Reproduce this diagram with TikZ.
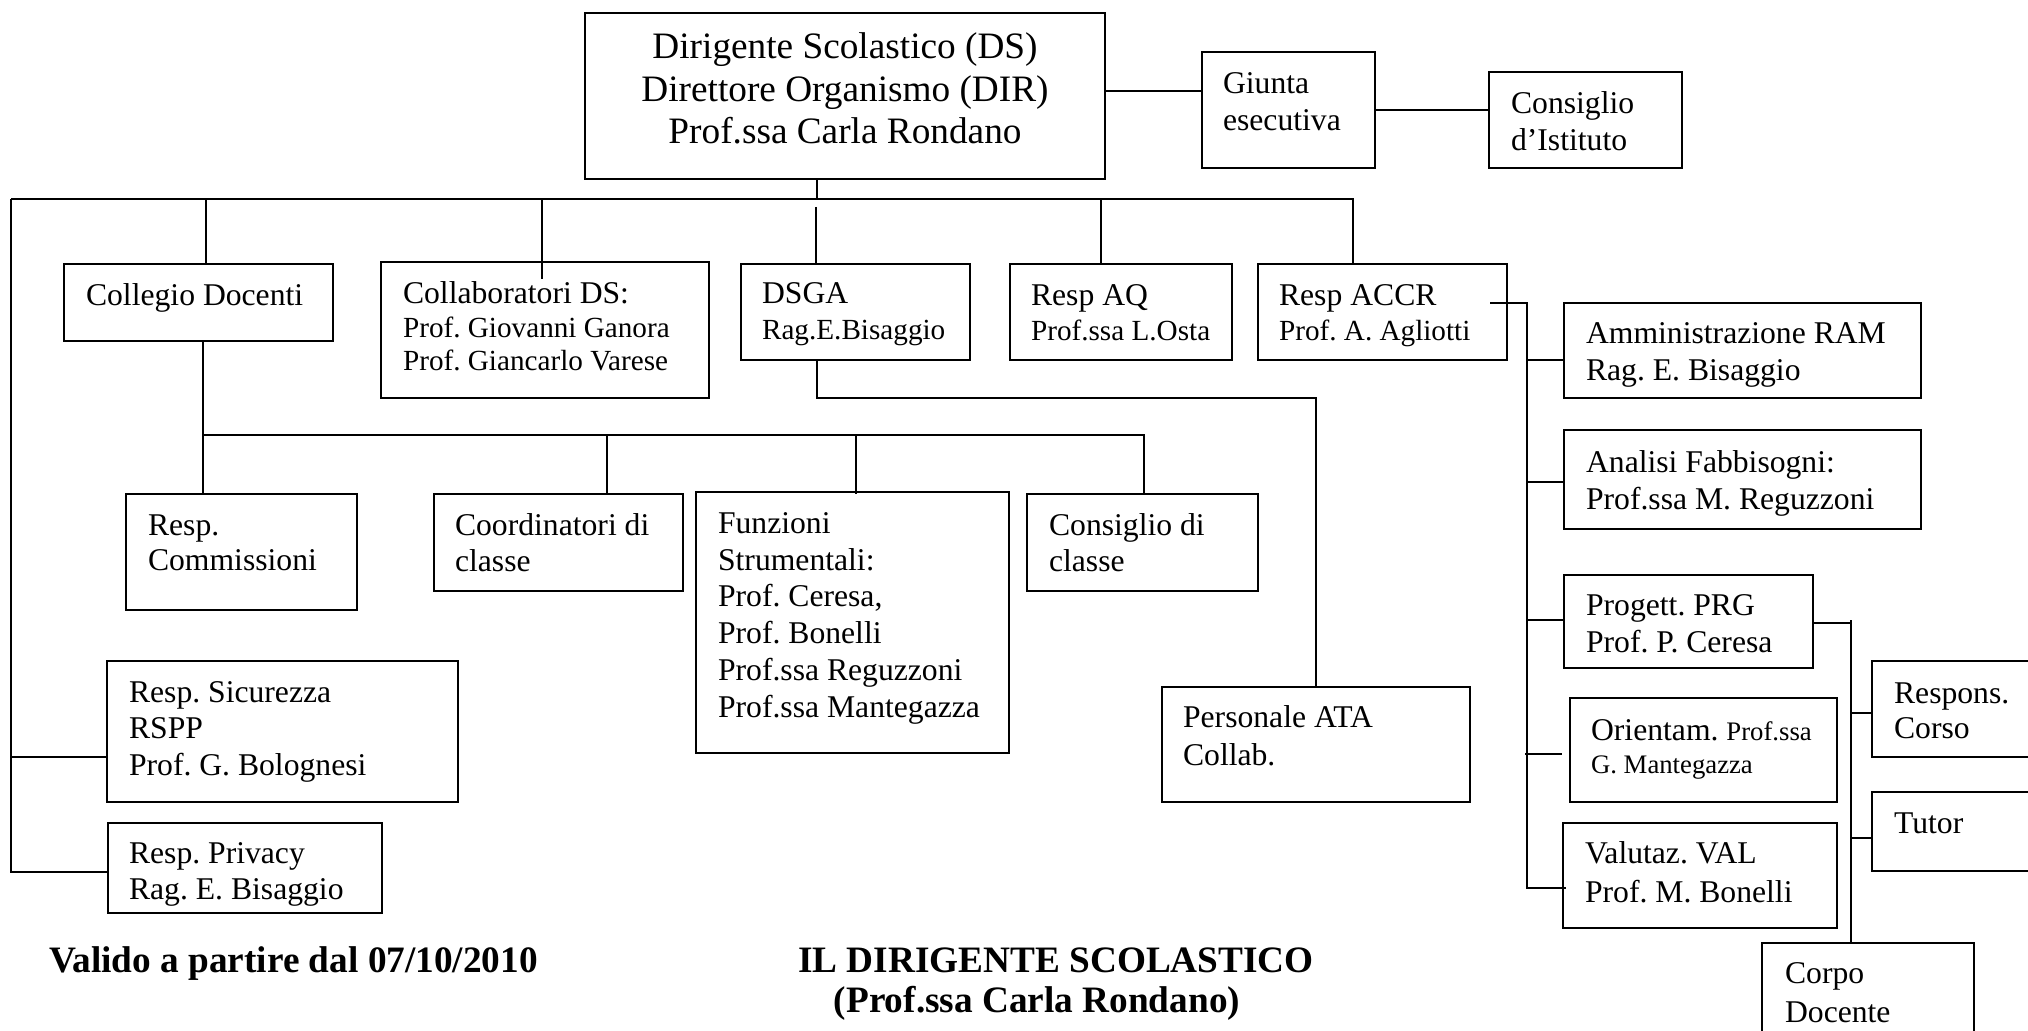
\documentclass[tikz,border=0pt]{standalone}
\usepackage{fontspec}
\setmainfont{Liberation Serif}
\usetikzlibrary{fit,calc}
\frenchspacing

\newcommand{\fds}{\fontsize{10.6}{12.1}\selectfont}
\newcommand{\fnorm}{\fontsize{9}{10.5}\selectfont}
\newcommand{\fsmall}{\fontsize{8.3}{10}\selectfont}
\newcommand{\ftiny}{\fontsize{7.6}{9.4}\selectfont}
\newcommand{\fbold}{\fontsize{10.6}{12}\selectfont\bfseries}
\newcommand{\st}{\rule{0pt}{0.8em}}

\tikzset{
  box/.style={draw, inner sep=0pt},
  txt/.style={anchor=north west, inner sep=0pt, align=left, font=\fnorm}
}

\begin{document}
\begin{tikzpicture}[x=0.01cm, y=-0.01cm, line width=0.6pt]
\useasboundingbox (0,0) rectangle (2028,1031);

% top row
\node[box, fit={(585,13) (1105,179)}] (ds) {};
\node[anchor=north, inner sep=0pt, align=center, font=\fds] (dsT) at (845,28) {\st Dirigente Scolastico (DS)\\Direttore Organismo (DIR)\\Prof.ssa Carla Rondano};
\node[box, fit={(1202,52) (1375,168)}] (giunta) {};
\node[txt] (giuntaT) at (1222,67) {\st Giunta\\esecutiva};
\node[box, fit={(1489,72) (1682,168)}] (cdi) {};
\node[txt] (cdiT) at (1510,87) {\st Consiglio\\d’Istituto};

% second row
\node[box, fit={(64,264) (333,341)}] (collegio) {};
\node[txt] (collegioT) at (85,279) {\st Collegio Docenti};
\node[box, fit={(381,262) (709,398)}] (collab) {};
\node[txt, font=\fontsize{9}{9.6}\selectfont] (collabT) at (402,277) {\st Collaboratori DS:\\\fsmall Prof. Giovanni Ganora\\\fsmall Prof. Giancarlo Varese};
\node[box, fit={(741,264) (970,360)}] (dsga) {};
\node[txt, font=\fontsize{9}{10.2}\selectfont] (dsgaT) at (761,277) {\st DSGA\\\fsmall Rag.E.Bisaggio};
\node[box, fit={(1010,264) (1232,360)}] (aq) {};
\node[txt, font=\fontsize{9}{10}\selectfont] (aqT) at (1030,279) {\st Resp AQ\\\fsmall Prof.ssa L.Osta};
\node[box, fit={(1258,264) (1507,360)}] (accr) {};
\node[txt, font=\fontsize{9}{10}\selectfont] (accrT) at (1278,279) {\st Resp ACCR\\\fsmall Prof. A. Agliotti};

% collegio docenti branch
\node[box, fit={(126,494) (357,610)}] (commiss) {};
\node[txt, font=\fontsize{9}{10}\selectfont] (commissT) at (147,509) {\st Resp.\\Commissioni};
\node[box, fit={(434,494) (683,591)}] (coord) {};
\node[txt, font=\fontsize{9}{10.3}\selectfont] (coordT) at (454,509) {\st Coordinatori di\\classe};
\node[box, fit={(696,492) (1009,753)}] (funz) {};
\node[txt, font=\fontsize{9}{10.45}\selectfont] (funzT) at (717,507) {\st Funzioni\\Strumentali:\\Prof. Ceresa,\\Prof. Bonelli\\Prof.ssa Reguzzoni\\Prof.ssa Mantegazza};
\node[box, fit={(1027,494) (1258,591)}] (cdc) {};
\node[txt, font=\fontsize{9}{10.3}\selectfont] (cdcT) at (1048,509) {\st Consiglio di\\classe};

% personale
\node[box, fit={(1162,687) (1470,802)}] (ata) {};
\node[txt, font=\fontsize{9}{10.8}\selectfont] (ataT) at (1182,701) {\st Personale ATA\\Collab.};

% left column
\node[box, fit={(107,661) (458,802)}] (sicur) {};
\node[txt, font=\fontsize{9}{10.4}\selectfont] (sicurT) at (128,676) {\st Resp. Sicurezza\\RSPP\\Prof. G. Bolognesi};
\node[box, fit={(108,823) (382,913)}] (privacy) {};
\node[txt, font=\fontsize{9}{10.4}\selectfont] (privacyT) at (128,837) {\st Resp. Privacy\\Rag. E. Bisaggio};

% right column
\node[box, fit={(1564,303) (1921,398)}] (amm) {};
\node[txt] (ammT) at (1585,317) {\st Amministrazione RAM\\Rag. E. Bisaggio};
\node[box, fit={(1564,430) (1921,529)}] (analisi) {};
\node[txt] (analisiT) at (1585,446) {\st Analisi Fabbisogni:\\Prof.ssa M. Reguzzoni};
\node[box, fit={(1564,575) (1813,668)}] (progett) {};
\node[txt] (progettT) at (1585,589) {\st Progett. PRG\\Prof. P. Ceresa};
\node[box, fit={(1570,698) (1837,802)}] (orient) {};
\node[txt, font=\fontsize{9}{9.4}\selectfont] (orientT) at (1590,714) {\st Orientam. {\ftiny Prof.ssa}\\\ftiny G. Mantegazza};
\node[box, fit={(1563,823) (1837,928)}] (valut) {};
\node[txt, font=\fontsize{9}{11}\selectfont] (valutT) at (1584,837) {\st Valutaz. VAL\\Prof. M. Bonelli};

% progettazione branch
\node[box, fit={(1872,661) (2060,757)}] (respons) {};
\node[txt, font=\fontsize{9}{10}\selectfont] (responsT) at (1893,677) {\st Respons.\\Corso};
\node[box, fit={(1872,792) (2060,871)}] (tutor) {};
\node[txt] (tutorT) at (1893,807) {\st Tutor};
\node[box, fit={(1762,943) (1974,1060)}] (corpo) {};
\node[txt, font=\fontsize{9}{11}\selectfont] (corpoT) at (1784,957) {\st Corpo\\Docente};

% footer
\node[anchor=base west, inner sep=0pt, font=\fbold] (valido) at (48,972) {Valido a partire dal 07/10/2010};
\node[anchor=base, inner sep=0pt, font=\fbold] (firma) at (1056,972) {IL DIRIGENTE SCOLASTICO};
\node[anchor=base, inner sep=0pt, font=\fbold] (firmaN) at (1037,1012) {(Prof.ssa Carla Rondano)};

% main bus
\coordinate (busL) at (11,199);
\coordinate (busR) at (1353,199);
\coordinate (jds) at (817,199);
\draw (busL) -- (busR) -- (accr.north -| busR);
\draw (ds.south -| jds) -- (jds);
\draw (ds.east |- 0,91) -- (giunta.west |- 0,91);
\draw (giunta.east) -- (cdi.west |- giunta.east);

% drops from the bus
\coordinate (jcol) at (206,199);
\draw (jcol) -- (collegio.north -| jcol);
\coordinate (jcollab) at (542,199);
\draw (jcollab) -- ($(collab.north -| jcollab)+(0,18)$);
\coordinate (jdsga) at (816,207);
\draw (jdsga) -- (dsga.north -| jdsga);
\coordinate (jaq) at (1101,199);
\draw (jaq) -- (aq.north -| jaq);

% left line
\coordinate (jsic) at (10,757);
\coordinate (jpriv) at (11,872);
\draw (busL) -- (jpriv) -- (privacy.west |- jpriv);
\draw (jsic) -- (sicur.west |- jsic);

% collegio sub-bus
\coordinate (jsub) at (203,435);
\coordinate (jsubR) at (1144,435);
\coordinate (jcoord) at (607,435);
\coordinate (jfunz) at (856,435);
\draw (collegio.south -| jsub) -- (commiss.north -| jsub);
\draw (jsub) -- (jsubR) -- (cdc.north -| jsubR);
\draw (jcoord) -- (coord.north -| jcoord);
\draw (jfunz) -- ($(funz.north -| jfunz)+(0,3)$);

% dsga to personale
\coordinate (jata) at (817,398);
\coordinate (jataR) at (1316,398);
\draw (dsga.south -| jata) -- (jata) -- (jataR) -- (ata.north -| jataR);

% accr column
\coordinate (jac) at (1490,303);
\coordinate (jacR) at (1527,303);
\coordinate (jacB) at (1527,888);
\draw (jac) -- (jacR) -- (jacB) -- ($(valut.west |- jacB)+(4,0)$);
\coordinate (ja1) at (1527,360);
\draw (ja1) -- (amm.west |- ja1);
\coordinate (ja2) at (1527,482);
\draw (ja2) -- (analisi.west |- ja2);
\coordinate (ja3) at (1527,620);
\draw (ja3) -- (progett.west |- ja3);
\coordinate (ja4) at (1525,754);
\draw (ja4) -- ($(orient.west |- ja4)+(-7,0)$);

% progett column
\coordinate (jp) at (1851,623);
\coordinate (jpT) at (1851,620);
\draw (progett.east |- jp) -- (jp);
\draw (jpT) -- (corpo.north -| jpT);
\coordinate (jr) at (1851,713);
\draw (jr) -- (respons.west |- jr);
\coordinate (jt) at (1851,838);
\draw (jt) -- (tutor.west |- jt);
\end{tikzpicture}
\end{document}
